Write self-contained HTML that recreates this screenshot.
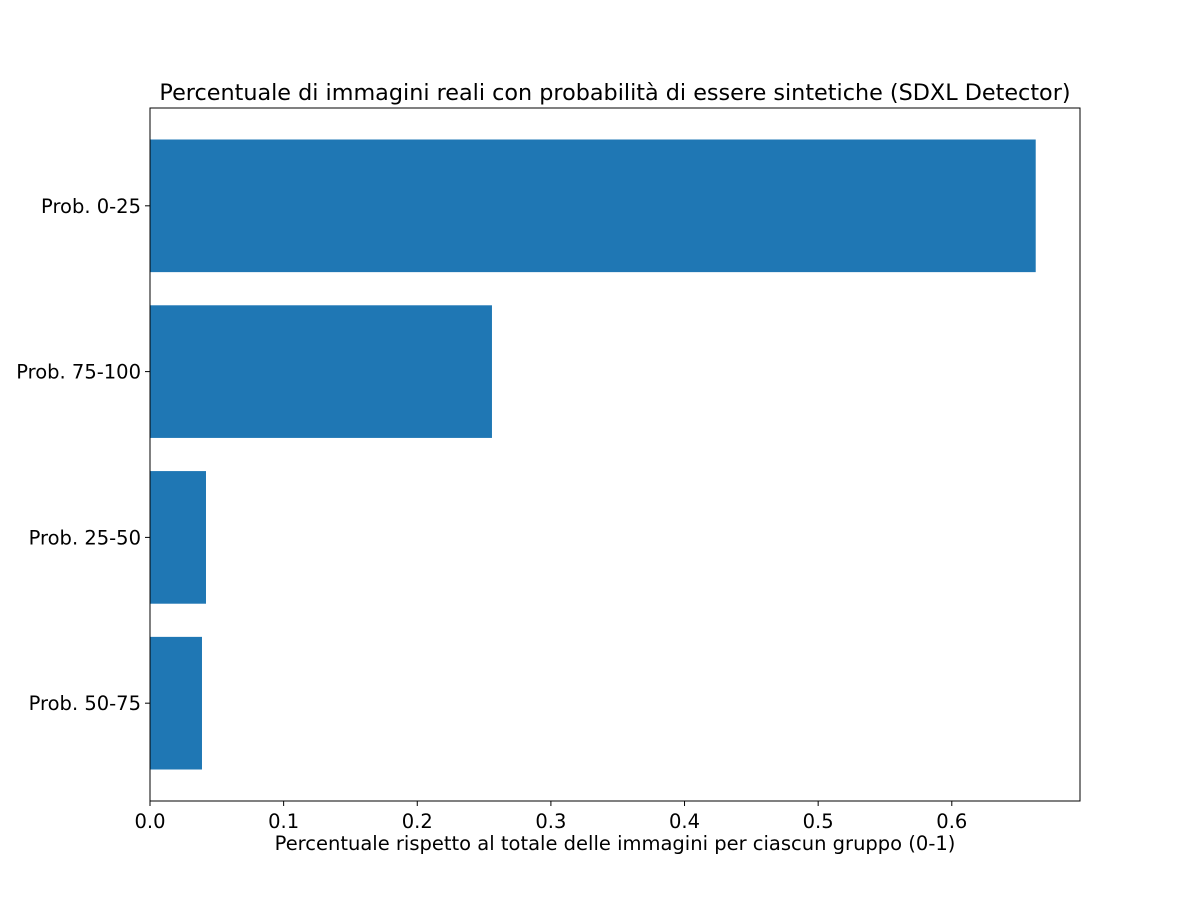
<!DOCTYPE html>
<html><head><meta charset="utf-8"><style>
html,body{margin:0;padding:0;background:#fff;}
svg text{font-family:"DejaVu Sans","Liberation Sans",sans-serif;fill:#000;}
</style></head><body>
<svg id="chart" width="1200" height="900" xmlns="http://www.w3.org/2000/svg">
<rect width="1200" height="900" fill="#fff"/>
<text x="615" y="100" font-size="22.3" text-anchor="middle">Percentuale di immagini reali con probabilità di essere sintetiche (SDXL Detector)</text>
<text x="615" y="850" font-size="19.5" text-anchor="middle">Percentuale rispetto al totale delle immagini per ciascun gruppo (0-1)</text>
<g id="plot"></g>
</svg>
<script>
const categories = ["Prob. 0-25","Prob. 75-100","Prob. 25-50","Prob. 50-75"];
const values = [0.6628, 0.2559, 0.0419, 0.0389];
const xTicks = [0, 0.1, 0.2, 0.3, 0.4, 0.5, 0.6];
const xTickLabels = ["0.0","0.1","0.2","0.3","0.4","0.5","0.6"];

const L=150,R=1080,T=108,B=801;
const xMax = Math.max(...values)*1.05;
const xs = v => L + v/xMax*(R-L);
const n = categories.length;
const span = (n-1)+0.8;
const lo = -0.4-0.05*span, hi = n-1+0.4+0.05*span;
const ys = i => T + (i-lo)/(hi-lo)*(B-T);
const ns="http://www.w3.org/2000/svg";
const g=document.getElementById('plot');
function mk(tag,attrs){const e=document.createElementNS(ns,tag);for(const k in attrs)e.setAttribute(k,attrs[k]);g.appendChild(e);return e;}
categories.forEach((c,i)=>{
  const r=mk('rect',{x:xs(0),y:ys(i-0.4),width:xs(values[i])-xs(0),height:ys(i+0.4)-ys(i-0.4),fill:'#1f77b4'});
  
  
  const t=mk('line',{x1:L,x2:L-5,y1:ys(i),y2:ys(i),stroke:'#000','stroke-width':1});
  
  
  const lb=mk('text',{x:L-9,y:ys(i)+7,'font-size':19.5,'text-anchor':'end'});
  lb.textContent=c;
  
  
});
xTicks.forEach((v,i)=>{
  const t=mk('line',{x1:xs(v),x2:xs(v),y1:B,y2:B+5,stroke:'#000','stroke-width':1});
  
  
  const lb=mk('text',{x:xs(v),y:B+27,'font-size':19.5,'text-anchor':'middle'});
  lb.textContent=xTickLabels[i];
  
  
});
const fr=mk('rect',{x:L,y:T,width:R-L,height:B-T,fill:'none',stroke:'#000','stroke-width':1});


</script>
</body></html>
